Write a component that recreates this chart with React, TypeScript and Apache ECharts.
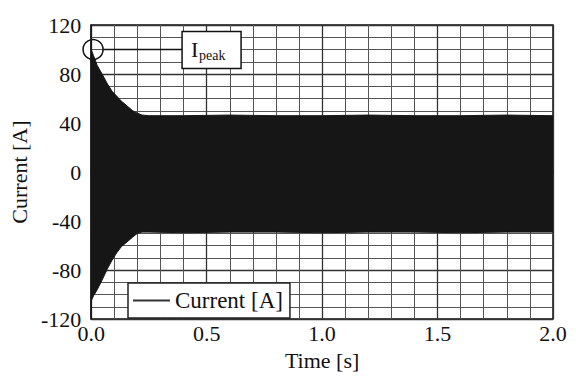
import React, { useEffect, useRef } from "react";
import * as echarts from "echarts";

// Envelope of the dense current oscillation
const times = [0, 0.01, 0.026, 0.05, 0.07, 0.09, 0.11, 0.13, 0.155, 0.18, 0.2, 0.22, 0.25, 0.4, 0.6, 0.8, 1.0, 1.2, 1.4, 1.6, 1.8, 2.0];
const upperEnvelope = [100, 95, 87, 79, 72, 66, 62, 58, 54, 50, 48, 46.5, 46, 46, 46.5, 46, 46, 46.5, 46, 46, 46.5, 46];
const lowerEnvelope = [-105, -101, -96, -87, -79, -72, -66, -61, -57, -53, -50, -49, -49, -49.5, -49, -49, -49.5, -49, -49, -49.5, -49, -49];
const xTicks = [0, 0.5, 1.0, 1.5, 2.0];
const yTicks = [-120, -80, -40, 0, 40, 80, 120];
const peakPoint = [0.008, 100];
const seriesName = "Current [A]";
const peakLabel = "I";
const peakSub = "peak";

const FONT = "'Liberation Serif', 'Times New Roman', serif";
const BAND = "#161616";

export default function App() {
  const ref = useRef<HTMLDivElement>(null);
  useEffect(() => {
    if (!ref.current) return;
    const chart = echarts.init(ref.current, undefined, { renderer: "svg" });
    const option: any = {
      animation: false,
      backgroundColor: "#fff",
      grid: { left: 88, right: 23, top: 25, bottom: 43, show: true, borderColor: "#111", borderWidth: 1.5 },
      legend: {
        data: [{ name: seriesName }],
        left: 128,
        top: 283,
        padding: [6, 7, 6, 5],
        backgroundColor: "#fff",
        borderColor: "#222",
        borderWidth: 1.5,
        borderRadius: 0,
        icon: "rect",
        itemWidth: 37,
        itemHeight: 2,
        textStyle: { fontFamily: FONT, fontSize: 23, color: "#111" },
      },
      xAxis: {
        type: "value",
        min: xTicks[0],
        max: xTicks[xTicks.length - 1],
        interval: 0.5,
        name: "Time [s]",
        nameLocation: "middle",
        nameGap: 21,
        nameTextStyle: { fontFamily: FONT, fontSize: 22, color: "#111" },
        axisLine: { show: true, lineStyle: { color: "#111", width: 1.5 } },
        axisTick: { show: false },
        axisLabel: { margin: 3, fontFamily: FONT, fontSize: 22, color: "#111", formatter: (v: number) => v.toFixed(1) },
        splitLine: { show: true, lineStyle: { color: "#333", width: 1.3 } },
        minorTick: { show: false, splitNumber: 5 },
        minorSplitLine: { show: true, lineStyle: { color: "#555", width: 1 } },
      },
      yAxis: {
        type: "value",
        min: yTicks[0],
        max: yTicks[yTicks.length - 1],
        interval: 40,
        name: "Current [A]",
        nameLocation: "middle",
        nameGap: 57,
        nameTextStyle: { fontFamily: FONT, fontSize: 22, color: "#111" },
        axisLine: { show: true, lineStyle: { color: "#111", width: 1.5 } },
        axisTick: { show: false },
        axisLabel: { margin: 10, fontFamily: FONT, fontSize: 22, color: "#111" },
        splitLine: { show: true, lineStyle: { color: "#333", width: 1.3 } },
        minorTick: { show: false, splitNumber: 4 },
        minorSplitLine: { show: true, lineStyle: { color: "#555", width: 1 } },
      },
      series: [
        {
          type: "line",
          name: seriesName,
          data: times.map((t, i) => [t, upperEnvelope[i]]),
          symbol: "none",
          lineStyle: { color: BAND, width: 1 },
          itemStyle: { color: "#333" },
          areaStyle: { color: BAND, opacity: 1, origin: 0 },
          z: 3,
        },
        {
          type: "line",
          name: seriesName,
          data: times.map((t, i) => [t, lowerEnvelope[i]]),
          symbol: "none",
          lineStyle: { color: BAND, width: 1 },
          itemStyle: { color: "#333" },
          areaStyle: { color: BAND, opacity: 1, origin: 0 },
          z: 3,
        },
      ],
    };
    chart.setOption(option);
    const p = chart.convertToPixel({ gridIndex: 0 }, peakPoint) as number[];
    const cx = p[0];
    const cy = p[1];
    const r = 10;
    const boxX = cx + 89;
    const boxW = 59;
    const boxH = 37;
    chart.setOption({
      graphic: [
        { type: "circle", shape: { cx, cy, r }, style: { fill: "none", stroke: "#111", lineWidth: 1.5 }, z: 10 },
        { type: "line", shape: { x1: cx + r, y1: cy, x2: boxX, y2: cy }, style: { stroke: "#111", lineWidth: 1.5 }, z: 10 },
        { type: "rect", shape: { x: boxX, y: cy - 18, width: boxW, height: boxH }, style: { fill: "#fff", stroke: "#111", lineWidth: 1.5 }, z: 10 },
        { type: "text", x: boxX + 9, y: cy - 11, style: { text: peakLabel, fontFamily: FONT, fontSize: 22, fill: "#111" }, z: 11 },
        { type: "text", x: boxX + 17, y: cy - 1, style: { text: peakSub, fontFamily: FONT, fontSize: 14, fill: "#111" }, z: 11 },
      ],
    });
    return () => chart.dispose();
  }, []);
  return <div ref={ref} style={{ width: 576, height: 376, position: "absolute", left: 0, top: 0 }} />;
}
